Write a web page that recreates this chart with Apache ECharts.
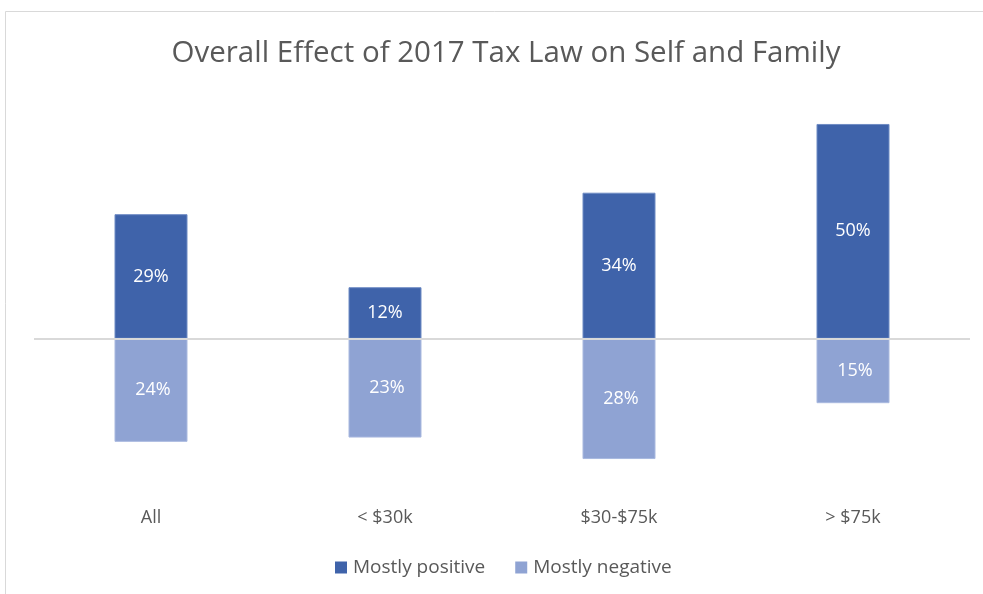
<!DOCTYPE html>
<html>
<head>
<meta charset="utf-8">
<script src="https://cdn.jsdelivr.net/npm/echarts@6/dist/echarts.min.js"></script>
<style>
  html, body { margin: 0; padding: 0; background: #ffffff; }
  #chart { width: 983px; height: 594px; }
</style>
</head>
<body>
<div id="chart"></div>
<script>
// Income groups and the share reporting each effect (percent)
const categories = ['All', '< $30k', '$30-$75k', '> $75k'];
const mostlyPositive = [29, 12, 34, 50];
const mostlyNegative = [24, 23, 28, 15];

const FONT = '"Open Sans", "Noto Sans", sans-serif';
const DARK = '#3F63AA';
const LIGHT = '#8FA3D3';

const chart = echarts.init(document.getElementById('chart'), null, { renderer: 'canvas' });

const barLabel = {
  show: true,
  position: 'inside',
  formatter: p => Math.abs(p.value) + '%',
  color: '#ffffff',
  fontFamily: FONT,
  fontSize: 18
};

chart.setOption({
  animation: false,
  backgroundColor: '#ffffff',
  textStyle: { fontFamily: FONT },
  graphic: [{
    type: 'rect',
    shape: { x: 5.5, y: 11.5, width: 1000, height: 700 },
    style: { fill: 'none', stroke: '#d9d9d9', lineWidth: 1 },
    silent: true,
    z: -1
  }],
  title: {
    text: 'Overall Effect of 2017 Tax Law on Self and Family',
    left: 501,
    textAlign: 'center',
    top: 34,
    textStyle: { fontFamily: FONT, fontSize: 29.5, fontWeight: 'normal', color: '#595959' }
  },
  legend: {
    data: ['Mostly positive', 'Mostly negative'],
    left: 330,
    top: 553,
    itemWidth: 12,
    itemHeight: 12,
    itemGap: 30,
    icon: 'rect',
    itemStyle: { borderWidth: 0 },
    textStyle: { fontFamily: FONT, fontSize: 19, color: '#595959', padding: [0, 0, 0, 1] }
  },
  grid: { left: 34, right: 13, top: 81, bottom: 92 },
  xAxis: {
    type: 'category',
    data: categories,
    axisLine: { show: false, onZero: false },
    axisTick: { show: false },
    axisLabel: { margin: 7, fontFamily: FONT, fontSize: 18, color: '#595959' }
  },
  yAxis: {
    type: 'value',
    min: -38,
    max: 60,
    show: false,
    splitLine: { show: false }
  },
  series: [
    {
      name: 'Mostly positive',
      type: 'bar',
      stack: 'effect',
      data: mostlyPositive,
      barWidth: 73,
      itemStyle: { color: DARK, borderColor: '#6f8cc4', borderWidth: 1 },
      label: barLabel,
      markLine: {
        silent: true,
        symbol: 'none',
        label: { show: false },
        lineStyle: { color: '#d9d9d9', width: 2, type: 'solid' },
        data: [{ yAxis: 0 }]
      }
    },
    {
      name: 'Mostly negative',
      type: 'bar',
      stack: 'effect',
      data: mostlyNegative.map(v => -v),
      barWidth: 73,
      itemStyle: { color: LIGHT, borderColor: '#a9b9df', borderWidth: 1 },
      label: Object.assign({}, barLabel, { offset: [2, 0] })
    }
  ]
});
</script>
</body>
</html>
